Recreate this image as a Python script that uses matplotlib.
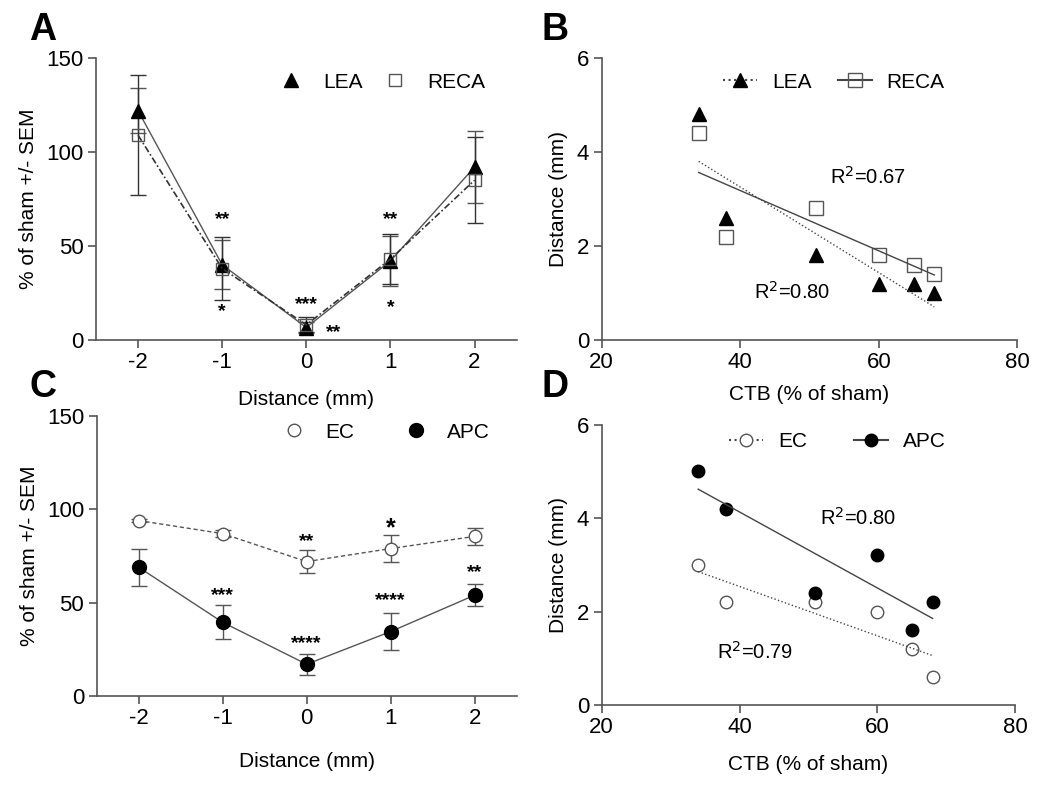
import numpy as np
import matplotlib
matplotlib.use("Agg")
from matplotlib import pyplot as plt

plt.rcParams['font.family'] = ['Liberation Sans', 'DejaVu Sans']

# ---- panel A / C data (% of sham +/- SEM) ----
dist = [-2, -1, 0, 1, 2]
lea_pct = [122, 40, 6.6, 42, 92]
lea_sem = [12, 13, 3, 13.5, 19]
reca_pct = [109, 38, 8, 43, 85]
reca_sem = [32, 17, 4, 13.5, 23]
ec_pct = [94, 87, 72, 79, 85.5]
ec_sem = [1, 2, 6, 7, 4.5]
apc_pct = [69, 39.5, 17, 34.5, 54]
apc_sem = [10, 9, 5.5, 10, 6]

# significance stars: (x, y, label)
stars_a = [(-1, 64, '**'), (-1, 15, '*'), (0, 19, '***'), (0.32, 4, '**'),
           (1, 64, '**'), (1, 17, '*')]
stars_c = [(0, 83, '**'), (1, 90, '*'), (2, 66, '**'), (-1, 54, '***'),
           (0, 28, '****'), (1, 51, '****')]

# ---- panel B / D data (CTB % of sham vs distance) ----
ctb = [34, 38, 51, 60, 65, 68]
lea_dist = [4.8, 2.6, 1.8, 1.2, 1.2, 1.0]
reca_dist = [4.4, 2.2, 2.8, 1.8, 1.6, 1.4]
ec_dist = [3.0, 2.2, 2.2, 2.0, 1.2, 0.6]
apc_dist = [5.0, 4.2, 2.4, 3.2, 1.6, 2.2]

GRAY = '#555555'
TICK_FS = 16
LAB_FS = 15
LEG_FS = 15


def style_axes(ax):
    for s in ['top', 'right']:
        ax.spines[s].set_visible(False)
    for s in ['left', 'bottom']:
        ax.spines[s].set_color(GRAY)
        ax.spines[s].set_linewidth(1.2)
    ax.tick_params(colors=GRAY, labelcolor='black', labelsize=TICK_FS,
                   length=6, width=1.2, direction='out', pad=3)


def fit_line(ax, x, y, ls):
    m, b = np.polyfit(x, y, 1)
    xs = np.array([min(x), max(x)])
    ax.plot(xs, m*xs + b, ls=ls, color='#444444', lw=1)


def put_legend(ax, handles, labels, xy, hl, pad, cs):
    ax.legend(handles, labels, loc='center', bbox_to_anchor=xy, ncol=2,
              frameon=False, fontsize=LEG_FS, handlelength=hl,
              handletextpad=pad, columnspacing=cs, borderpad=0)


fig = plt.figure(figsize=(10.5, 7.85), dpi=100)
axA = fig.add_axes([0.0914, 0.567, 0.4006, 0.359])
axB = fig.add_axes([0.573, 0.567, 0.396, 0.359])
axC = fig.add_axes([0.092, 0.1134, 0.400, 0.3566])
axD = fig.add_axes([0.573, 0.102, 0.394, 0.357])

# ---- A ----
axA.errorbar(dist, lea_pct, yerr=lea_sem, color='#555555', lw=1, capsize=6,
             elinewidth=1, marker='^', ms=10, mfc='black', mec='black')
axA.errorbar(dist, reca_pct, yerr=reca_sem, color='#333333', lw=1.2,
             dashes=(4, 1.5, 1, 1.5), capsize=6, elinewidth=1, marker='s',
             ms=9, mfc='none', mec='#555555')
for x, y, t in stars_a:
    axA.text(x, y, t, ha='center', va='center', fontsize=14,
             fontweight='bold')
axA.set_xlim(-2.5, 2.5)
axA.set_ylim(0, 150)
axA.set_xticks(dist, [str(d) for d in dist])
axA.set_yticks([0, 50, 100, 150])
axA.set_xlabel('Distance (mm)', fontsize=LAB_FS, labelpad=12)
axA.set_ylabel('% of sham +/- SEM', fontsize=LAB_FS, labelpad=6)
hA = [plt.Line2D([], [], ls='none', marker='^', ms=10, color='black'),
      plt.Line2D([], [], ls='none', marker='s', ms=9, mfc='none',
                 mec='#555555')]
put_legend(axA, hA, ['LEA', 'RECA'], (0.669, 0.915), 2.0, 0.55, 0.55)
style_axes(axA)

# ---- B ----
axB.plot(ctb, lea_dist, ls='none', marker='^', ms=10, color='black')
axB.plot(ctb, reca_dist, ls='none', marker='s', ms=10, mfc='none',
         mec='#555555')
fit_line(axB, ctb, lea_dist, ':')
fit_line(axB, ctb, reca_dist, '-')
axB.text(58.4, 3.47, 'R$^2$=0.67', fontsize=14.5, ha='center', va='center')
axB.text(47.5, 1.02, 'R$^2$=0.80', fontsize=14.5, ha='center', va='center')
axB.set_xlim(20, 80)
axB.set_ylim(0, 6)
axB.set_xticks([20, 40, 60, 80])
axB.set_yticks([0, 2, 4, 6])
axB.set_xlabel('CTB (% of sham)', fontsize=LAB_FS, labelpad=8)
axB.set_ylabel('Distance (mm)', fontsize=LAB_FS, labelpad=6)
hB = [plt.Line2D([], [], ls=':', color='#444444', marker='^', ms=10,
                 mfc='black', mec='black'),
      plt.Line2D([], [], ls='-', color='#444444', marker='s', ms=10,
                 mfc='none', mec='#555555')]
put_legend(axB, hB, ['LEA', 'RECA'], (0.559, 0.915), 1.6, 0.72, 1.3)
style_axes(axB)

# ---- C ----
axC.errorbar(dist, ec_pct, yerr=ec_sem, color='#555555', lw=1,
             dashes=(3, 2), capsize=6, elinewidth=1, marker='o', ms=9,
             mfc='white', mec='#555555')
axC.errorbar(dist, apc_pct, yerr=apc_sem, color='#555555', lw=1,
             capsize=6, elinewidth=1, marker='o', ms=10, mfc='black',
             mec='black')
for x, y, t in stars_c:
    fs = 18 if t == '*' else 14
    axC.text(x, y, t, ha='center', va='center', fontsize=fs,
             fontweight='bold')
axC.set_xlim(-2.5, 2.5)
axC.set_ylim(0, 150)
axC.set_xticks(dist, [str(d) for d in dist])
axC.set_yticks([0, 50, 100, 150])
axC.set_xlabel('Distance (mm)', fontsize=LAB_FS, labelpad=16)
axC.set_ylabel('% of sham +/- SEM', fontsize=LAB_FS, labelpad=6)
hC = [plt.Line2D([], [], ls='none', marker='o', ms=9, mfc='white',
                 mec='#555555'),
      plt.Line2D([], [], ls='none', marker='o', ms=10, color='black')]
put_legend(axC, hC, ['EC', 'APC'], (0.679, 0.943), 2.0, 0.5, 1.93)
style_axes(axC)

# ---- D ----
axD.plot(ctb, ec_dist, ls='none', marker='o', ms=9, mfc='white',
         mec='#555555')
axD.plot(ctb, apc_dist, ls='none', marker='o', ms=9, color='black')
fit_line(axD, ctb, ec_dist, ':')
fit_line(axD, ctb, apc_dist, '-')
axD.text(57.2, 4.0, 'R$^2$=0.80', fontsize=14.5, ha='center', va='center')
axD.text(42.2, 1.13, 'R$^2$=0.79', fontsize=14.5, ha='center', va='center')
axD.set_xlim(20, 80)
axD.set_ylim(0, 6)
axD.set_xticks([20, 40, 60, 80])
axD.set_yticks([0, 2, 4, 6])
axD.set_xlabel('CTB (% of sham)', fontsize=LAB_FS, labelpad=12)
axD.set_ylabel('Distance (mm)', fontsize=LAB_FS, labelpad=6)
hD = [plt.Line2D([], [], ls=':', color='#444444', marker='o', ms=9,
                 mfc='white', mec='#555555'),
      plt.Line2D([], [], ls='-', color='#444444', marker='o', ms=9,
                 mfc='black', mec='black')]
put_legend(axD, hD, ['EC', 'APC'], (0.571, 0.939), 1.63, 0.72, 2.26)
style_axes(axD)

# panel letters
for lbl, x, y in [('A', 0.041, 0.962), ('B', 0.529, 0.962),
                  ('C', 0.041, 0.507), ('D', 0.529, 0.507)]:
    fig.text(x, y, lbl, fontsize=27, fontweight='bold', ha='center',
             va='center')

fig.savefig('out.png', dpi=100)
